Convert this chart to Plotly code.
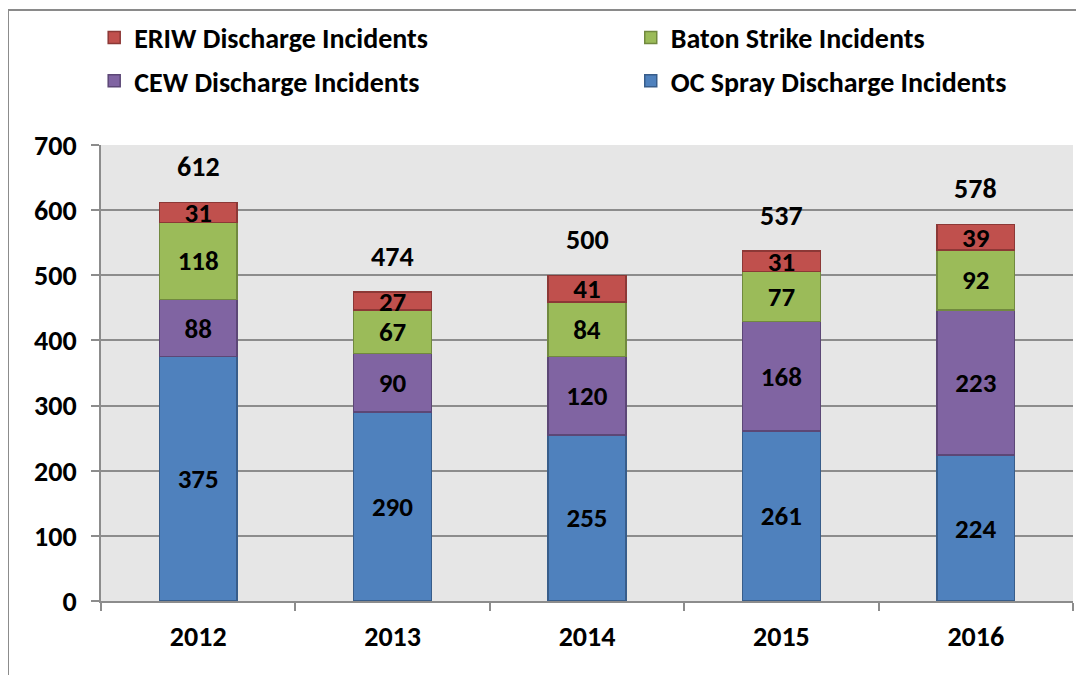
import plotly.graph_objects as go

years = ["2012", "2013", "2014", "2015", "2016"]
oc_spray = [375, 290, 255, 261, 224]
cew = [88, 90, 120, 168, 223]
baton = [118, 67, 84, 77, 92]
eriw = [31, 27, 41, 31, 39]
totals = [612, 474, 500, 537, 578]

FONT = "Carlito, Lato, sans-serif"
FS = 28

series = [
    ("OC Spray Discharge Incidents", oc_spray, "#4F81BD", "#385D8A", "legend2", 2),
    ("CEW Discharge Incidents", cew, "#8064A2", "#5C4776", "legend", 2),
    ("Baton Strike Incidents", baton, "#9BBB59", "#71893F", "legend2", 1),
    ("ERIW Discharge Incidents", eriw, "#C0504D", "#8C3836", "legend", 1),
]

fig = go.Figure()
for name, vals, col, edge, lg, rank in series:
    fig.add_trace(go.Bar(
        x=years, y=vals, name=name, legend=lg, legendgroup=name, legendrank=rank,
        marker=dict(color=col, line=dict(color=edge, width=1.5)),
        texttemplate="%{y}", textposition="inside", insidetextanchor="middle",
        textangle=0, constraintext="none",
        textfont=dict(family=FONT, size=27, color="black", weight="bold"),
        width=0.4,
    ))

for i, t in enumerate(totals):
    fig.add_annotation(x=i, y=t, text=f"<b>{t}</b>", showarrow=False,
                       yshift=36, yanchor="middle",
                       font=dict(family=FONT, size=FS, color="black"))

# outer frame lines
fig.add_shape(type="line", xref="paper", yref="paper", x0=-0.0957, x1=-0.0957,
              y0=1.296, y1=-0.2, line=dict(color="#8a8a8a", width=2))
fig.add_shape(type="line", xref="paper", yref="paper", x0=-0.0957, x1=1.02,
              y0=1.296, y1=1.296, line=dict(color="#8a8a8a", width=2))

legfont = dict(family=FONT, size=28, color="black", weight="bold")
fig.update_layout(
    barmode="stack",
    width=1076, height=667,
    margin=dict(l=93, r=11, t=137, b=74, autoexpand=False),
    paper_bgcolor="white",
    plot_bgcolor="#E6E6E6",
    font=dict(family=FONT, size=FS, color="black", weight="bold"),
    showlegend=True,
    legend=dict(orientation="v", traceorder="grouped", tracegroupgap=4,
                x=-0.007, y=1.29, xanchor="left", yanchor="top",
                font=legfont, itemwidth=30, bgcolor="rgba(0,0,0,0)"),
    legend2=dict(orientation="v", traceorder="grouped", tracegroupgap=4,
                 x=0.545, y=1.29, xanchor="left", yanchor="top",
                 font=legfont, itemwidth=30, bgcolor="rgba(0,0,0,0)"),
    yaxis=dict(range=[0, 700], dtick=100, showgrid=True, gridcolor="#8c8c8c", gridwidth=1.5,
               ticks="outside", ticklen=8, tickcolor="#8c8c8c", tickwidth=1.5,
               ticklabelstandoff=9,
               showline=True, linecolor="#8c8c8c", linewidth=1.5, zeroline=False,
               tickfont=dict(family=FONT, size=FS, color="black", weight="bold")),
    xaxis=dict(type="category", range=[-0.5, 4.5], ticks="outside", tickson="boundaries", ticklen=8,
               tickcolor="#8c8c8c", tickwidth=1.5, ticklabelstandoff=10,
               showline=True, linecolor="#8c8c8c", linewidth=1.5,
               tickfont=dict(family=FONT, size=FS, color="black", weight="bold")),
    bargap=0.6,
)

fig.write_html("out.html")
